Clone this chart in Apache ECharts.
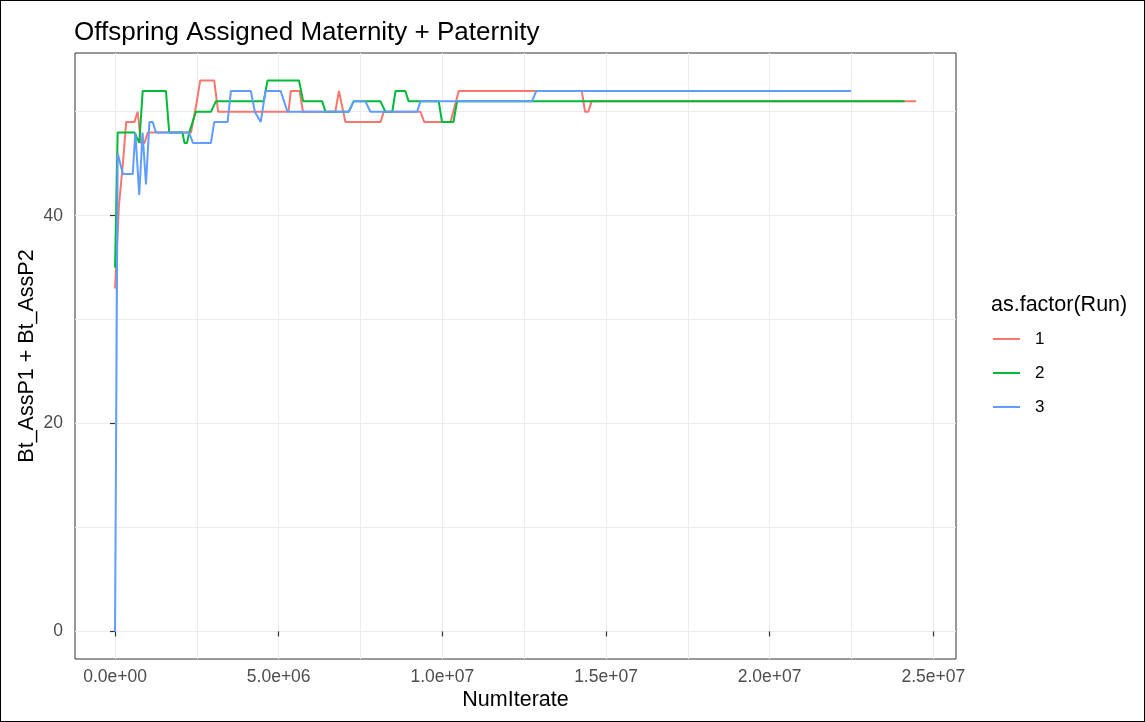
<!DOCTYPE html>
<html>
<head>
<meta charset="utf-8">
<title>Offspring Assigned Maternity + Paternity</title>
<script src="https://cdn.jsdelivr.net/npm/echarts@6/dist/echarts.min.js"></script>
<style>
  html, body { margin: 0; padding: 0; background: #fff; }
  #chart { position: absolute; left: 0; top: 0; width: 1145px; height: 722px; }
  #frame { position: absolute; left: 0; top: 0; width: 1145px; height: 722px;
           box-sizing: border-box; border: 1px solid #000; pointer-events: none; }
</style>
</head>
<body>
<div id="chart"></div>
<div id="frame"></div>
<script>
// values (NumIterate vs Bt_AssP1 + Bt_AssP2), one pair of arrays per run
const run1Iter = [0, 0.12e6, 0.24e6, 0.34e6, 0.59e6, 0.69e6, 0.74e6, 0.79e6, 0.9e6, 1.0e6,
  2.32e6, 2.38e6, 2.44e6, 2.5e6, 2.55e6, 2.6e6, 3.03e6, 3.15e6, 5.3e6, 5.37e6, 5.64e6, 5.74e6,
  6.73e6, 6.84e6, 6.9e6, 7.04e6, 8.11e6, 8.21e6, 9.33e6, 9.45e6, 10.25e6, 10.5e6,
  14.26e6, 14.36e6, 14.46e6, 14.56e6, 24.47e6]
const run1Value = [33, 41, 45, 49, 49, 50, 50, 47, 47, 48,
  48, 49, 50, 51, 52, 53, 53, 50, 50, 52, 52, 50,
  50, 52, 52, 49, 49, 50, 50, 49, 49, 52,
  52, 50, 50, 51, 51]

const run2Iter = [0, 0.08e6, 0.59e6, 0.74e6, 0.845e6, 1.555e6, 1.655e6, 2.06e6, 2.12e6, 2.2e6,
  2.265e6, 2.37e6, 2.47e6, 2.93e6, 3.08e6, 4.54e6, 4.66e6, 5.62e6, 5.75e6, 6.33e6,
  6.43e6, 7.14e6, 7.29e6, 8.11e6, 8.26e6, 8.47e6, 8.57e6, 8.87e6, 8.97e6, 9.89e6,
  9.99e6, 10.34e6, 10.45e6, 24.12e6]
const run2Value = [35, 48, 48, 47, 52, 52, 48, 48, 47, 47,
  48, 49, 50, 50, 51, 51, 53, 53, 51, 51,
  50, 50, 51, 51, 50, 50, 52, 52, 51, 51,
  49, 49, 51, 51]

const run3Iter = [0, 0.08e6, 0.24e6, 0.54e6, 0.62e6, 0.74e6, 0.84e6, 0.945e6, 1.05e6, 1.15e6,
  1.25e6, 2.26e6, 2.38e6, 2.93e6, 3.03e6, 3.44e6, 3.54e6, 4.15e6, 4.27e6, 4.45e6,
  4.6e6, 5.06e6, 5.27e6, 7.14e6, 7.29e6, 7.65e6, 7.8e6, 9.23e6, 9.33e6, 12.74e6,
  12.87e6, 22.49e6]
const run3Value = [0, 46, 44, 44, 48, 42, 48, 43, 49, 49,
  48, 48, 47, 47, 49, 49, 52, 52, 50, 49,
  52, 52, 50, 50, 51, 51, 50, 50, 51, 51,
  52, 52]

const runNames = ['1', '2', '3']
const runColors = ['#F8766D', '#00BA38', '#619CFF']

const xTicks = [0, 5e6, 10e6, 15e6, 20e6, 25e6]
const xGrid = [0, 2.5e6, 5e6, 7.5e6, 10e6, 12.5e6, 15e6, 17.5e6, 20e6, 22.5e6, 25e6]
const yTicks = [0, 20, 40]
const yGrid = [0, 10, 20, 30, 40, 50]

// ggplot style 5% expansion of the data range
const xMin = -1.2235e6, xMax = 25.6935e6
const yMin = -2.65, yMax = 55.65

const FONT = '"Liberation Sans", Arial, sans-serif'

function sci(v) {
  // 2.5e+07 style labels
  const [m, e] = v.toExponential(1).split('e')
  const n = Math.abs(+e)
  return m + 'e' + (+e < 0 ? '-' : '+') + (n < 10 ? '0' + n : n)
}

const zip = (xs, ys) => xs.map((x, i) => [x, ys[i]])
const runs = [zip(run1Iter, run1Value), zip(run2Iter, run2Value), zip(run3Iter, run3Value)]

const chart = echarts.init(document.getElementById('chart'), null, { renderer: 'canvas' })

const gridAxis = (min, max, grid) => ({
  type: 'value', min, max,
  axisLine: { show: false },
  axisTick: { show: false, customValues: grid },
  axisLabel: { show: false },
  splitLine: { show: true, lineStyle: { color: '#EBEBEB', width: 1 } }
})

chart.setOption({
  animation: false,
  backgroundColor: '#fff',
  textStyle: { fontFamily: FONT },
  title: [
    {
      text: 'Offspring Assigned Maternity + Paternity',
      left: 69, top: 15,
      textStyle: { fontFamily: FONT, fontSize: 26, fontWeight: 'normal', color: '#000' }
    },
    {
      text: 'as.factor(Run)',
      left: 986, top: 289,
      textStyle: { fontFamily: FONT, fontSize: 21.5, fontWeight: 'normal', color: '#000' }
    }
  ],
  grid: {
    left: 75, right: 189, top: 53, bottom: 63,
    show: true, borderColor: '#333333', borderWidth: 1, backgroundColor: 'transparent'
  },
  legend: {
    data: runNames,
    orient: 'vertical',
    left: 993, top: 329,
    padding: 0,
    icon: 'rect',
    itemWidth: 27, itemHeight: 2, itemGap: 14,
    textStyle: { fontFamily: FONT, fontSize: 17, color: '#000', lineHeight: 20, padding: [0, 0, 0, 10] }
  },
  xAxis: [
    gridAxis(xMin, xMax, xGrid),
    {
      type: 'value', min: xMin, max: xMax, position: 'bottom',
      name: 'NumIterate', nameLocation: 'middle', nameGap: 30, nameMoveOverlap: false,
      nameTextStyle: { fontFamily: FONT, fontSize: 21.5, color: '#000' },
      axisLine: { show: false },
      axisTick: { show: true, length: 5, customValues: xTicks, lineStyle: { color: '#333333', width: 1.2 } },
      axisLabel: { customValues: xTicks, formatter: sci, margin: 9,
        fontFamily: FONT, fontSize: 17.5, color: '#4D4D4D' },
      splitLine: { show: false }
    }
  ],
  yAxis: [
    gridAxis(yMin, yMax, yGrid),
    {
      type: 'value', min: yMin, max: yMax, position: 'left',
      name: 'Bt_AssP1 + Bt_AssP2', nameLocation: 'middle', nameGap: 37, nameMoveOverlap: false,
      nameTextStyle: { fontFamily: FONT, fontSize: 21.5, color: '#000' },
      axisLine: { show: false },
      axisTick: { show: true, length: 5, customValues: yTicks, lineStyle: { color: '#333333', width: 1.2 } },
      axisLabel: { customValues: yTicks, margin: 12,
        fontFamily: FONT, fontSize: 17.5, color: '#4D4D4D' },
      splitLine: { show: false }
    }
  ],
  series: runs.map((d, i) => ({
    name: runNames[i],
    type: 'line',
    xAxisIndex: 0, yAxisIndex: 0,
    data: d,
    showSymbol: false,
    symbol: 'none',
    color: runColors[i],
    lineStyle: { color: runColors[i], width: 2 },
    emphasis: { disabled: true }
  }))
})
</script>
</body>
</html>
